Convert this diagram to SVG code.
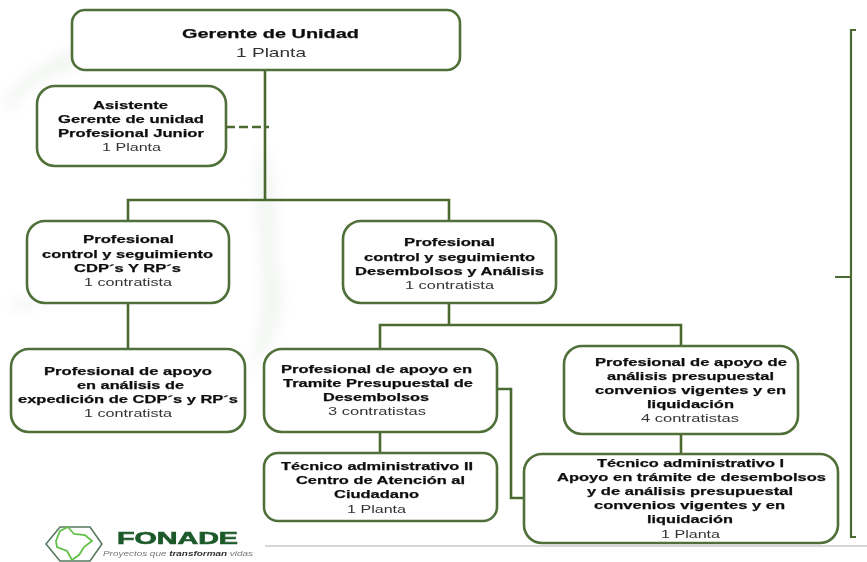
<svg xmlns="http://www.w3.org/2000/svg" width="867" height="562" viewBox="0 0 867 562">
<defs>
<filter id="soft" filterUnits="userSpaceOnUse" x="0" y="0" width="867" height="562"><feGaussianBlur stdDeviation="0.6"/></filter>
<filter id="wm" filterUnits="userSpaceOnUse" x="0" y="0" width="867" height="562"><feGaussianBlur stdDeviation="7"/></filter>
</defs>
<style>
.box{fill:#fff;stroke:#4f6f38;stroke-width:2.6}
.c{fill:none;stroke:#4b6b33;stroke-width:2.6}
text{font-family:"Liberation Sans",Arial,sans-serif;font-size:11.5px;fill:#111}
.b{font-weight:bold;stroke:#111;stroke-width:.25}
.n{fill:#333}
.big{font-size:13.5px}
</style>
<rect width="867" height="562" fill="#fff"/>
<g id="watermark" filter="url(#wm)" fill="#f2f5f2">
<path d="M6 95C50 50 100 35 150 35L70 70C40 80 20 90 6 120Z"/>
<path d="M262 140C285 190 268 240 280 280C292 330 250 380 200 430C240 420 262 350 262 290C262 240 250 190 262 140Z"/>
<path d="M6 300L60 296L20 312Z"/>
</g>
<g filter="url(#soft)">
<g id="connectors">
<path class="c" d="M265 70V200M128 222V200H449V222M128 303V349M449 303V325M380 349V325H681V346M380 432V453M681 434V454M497 389H511V498H524"/>
<path class="c" stroke-dasharray="9 4" d="M226 127H269"/>
<path class="c" style="stroke-width:2.2" d="M856 30H851V537H856M851 277H835"/>
<path d="M265 546H867" fill="none" stroke="#c9c9c9" stroke-width="1.5"/>
</g>
<g id="gerente"><rect class="box" x="72" y="10" width="388" height="60" rx="13"/>
<text class="b big" x="182" y="38" textLength="177" lengthAdjust="spacingAndGlyphs">Gerente de Unidad</text>
<text class="n big" x="236" y="57" textLength="70" lengthAdjust="spacingAndGlyphs">1 Planta</text></g>
<g id="asistente"><rect class="box" x="37" y="86" width="189" height="80" rx="18"/>
<text class="b" x="93" y="109" textLength="75" lengthAdjust="spacingAndGlyphs">Asistente</text>
<text class="b" x="58" y="123" textLength="146" lengthAdjust="spacingAndGlyphs">Gerente de unidad</text>
<text class="b" x="58" y="137" textLength="146" lengthAdjust="spacingAndGlyphs">Profesional Junior</text>
<text class="n" x="102" y="151" textLength="59" lengthAdjust="spacingAndGlyphs">1 Planta</text></g>
<g id="prof-cdp"><rect class="box" x="27" y="221" width="202" height="82" rx="18"/>
<text class="b" x="83" y="243" textLength="91" lengthAdjust="spacingAndGlyphs">Profesional</text>
<text class="b" x="42" y="258" textLength="171" lengthAdjust="spacingAndGlyphs">control y seguimiento</text>
<text class="b" x="74" y="272" textLength="107" lengthAdjust="spacingAndGlyphs">CDP´s Y RP´s</text>
<text class="n" x="84" y="286" textLength="88" lengthAdjust="spacingAndGlyphs">1 contratista</text></g>
<g id="prof-desembolsos"><rect class="box" x="343" y="221" width="213" height="82" rx="18"/>
<text class="b" x="404" y="246" textLength="91" lengthAdjust="spacingAndGlyphs">Profesional</text>
<text class="b" x="364" y="261" textLength="171" lengthAdjust="spacingAndGlyphs">control y seguimiento</text>
<text class="b" x="355" y="275" textLength="189" lengthAdjust="spacingAndGlyphs">Desembolsos y Análisis</text>
<text class="n" x="405" y="289" textLength="89" lengthAdjust="spacingAndGlyphs">1 contratista</text></g>
<g id="apoyo-cdp"><rect class="box" x="11" y="349" width="234" height="83" rx="18"/>
<text class="b" x="44" y="375" textLength="168" lengthAdjust="spacingAndGlyphs">Profesional de apoyo</text>
<text class="b" x="77" y="389" textLength="107" lengthAdjust="spacingAndGlyphs">en análisis de</text>
<text class="b" x="18" y="403" textLength="220" lengthAdjust="spacingAndGlyphs">expedición de CDP´s y RP´s</text>
<text class="n" x="84" y="417" textLength="88" lengthAdjust="spacingAndGlyphs">1 contratista</text></g>
<g id="apoyo-tramite"><rect class="box" x="264" y="349" width="233" height="83" rx="18"/>
<text class="b" x="281" y="373" textLength="191" lengthAdjust="spacingAndGlyphs">Profesional de apoyo en</text>
<text class="b" x="283" y="387" textLength="190" lengthAdjust="spacingAndGlyphs">Tramite Presupuestal de</text>
<text class="b" x="323" y="401" textLength="106" lengthAdjust="spacingAndGlyphs">Desembolsos</text>
<text class="n" x="328" y="415" textLength="98" lengthAdjust="spacingAndGlyphs">3 contratistas</text></g>
<g id="apoyo-analisis"><rect class="box" x="564" y="346" width="234" height="88" rx="18"/>
<text class="b" x="595" y="366" textLength="192" lengthAdjust="spacingAndGlyphs">Profesional de apoyo de</text>
<text class="b" x="607" y="380" textLength="167" lengthAdjust="spacingAndGlyphs">análisis presupuestal</text>
<text class="b" x="595" y="394" textLength="191" lengthAdjust="spacingAndGlyphs">convenios vigentes y en</text>
<text class="b" x="647" y="408" textLength="87" lengthAdjust="spacingAndGlyphs">liquidación</text>
<text class="n" x="641" y="422" textLength="98" lengthAdjust="spacingAndGlyphs">4 contratistas</text></g>
<g id="tecnico-ii"><rect class="box" x="264" y="453" width="233" height="68" rx="14"/>
<text class="b" x="281" y="470" textLength="192" lengthAdjust="spacingAndGlyphs">Técnico administrativo II</text>
<text class="b" x="296" y="484" textLength="169" lengthAdjust="spacingAndGlyphs">Centro de Atención al</text>
<text class="b" x="334" y="498" textLength="85" lengthAdjust="spacingAndGlyphs">Ciudadano</text>
<text class="n" x="347" y="513" textLength="59" lengthAdjust="spacingAndGlyphs">1 Planta</text></g>
<g id="tecnico-i"><rect class="box" x="524" y="454" width="314" height="89" rx="18"/>
<text class="b" x="597" y="467" textLength="187" lengthAdjust="spacingAndGlyphs">Técnico administrativo I</text>
<text class="b" x="557" y="481" textLength="269" lengthAdjust="spacingAndGlyphs">Apoyo en trámite de desembolsos</text>
<text class="b" x="587" y="495" textLength="206" lengthAdjust="spacingAndGlyphs">y de análisis presupuestal</text>
<text class="b" x="594" y="509" textLength="191" lengthAdjust="spacingAndGlyphs">convenios vigentes y en</text>
<text class="b" x="647" y="523" textLength="86" lengthAdjust="spacingAndGlyphs">liquidación</text>
<text class="n" x="661" y="538" textLength="59" lengthAdjust="spacingAndGlyphs">1 Planta</text></g>
<g id="logo">
<path d="M46 544L60 527H90L102 544L90 561H60Z" fill="#fff" stroke="#55795f" stroke-width="1.6"/>
<path d="M56 541L60 531L68 527L74 534L85 535L92 541L84 547L79 555L72 560L67 551L57 547Z" fill="none" stroke="#63c04a" stroke-width="1.8"/>
<text x="117" y="544" textLength="121" lengthAdjust="spacingAndGlyphs" style="font-size:16px;font-weight:bold;fill:#1c5a2c;stroke:#1c5a2c;stroke-width:.6">FONADE</text>
<text x="103" y="556" textLength="150" lengthAdjust="spacingAndGlyphs" style="font-size:7.5px;font-style:italic;fill:#777">Proyectos que <tspan font-weight="bold" fill="#333">transforman</tspan> vidas</text>
</g>
</g>
</svg>
